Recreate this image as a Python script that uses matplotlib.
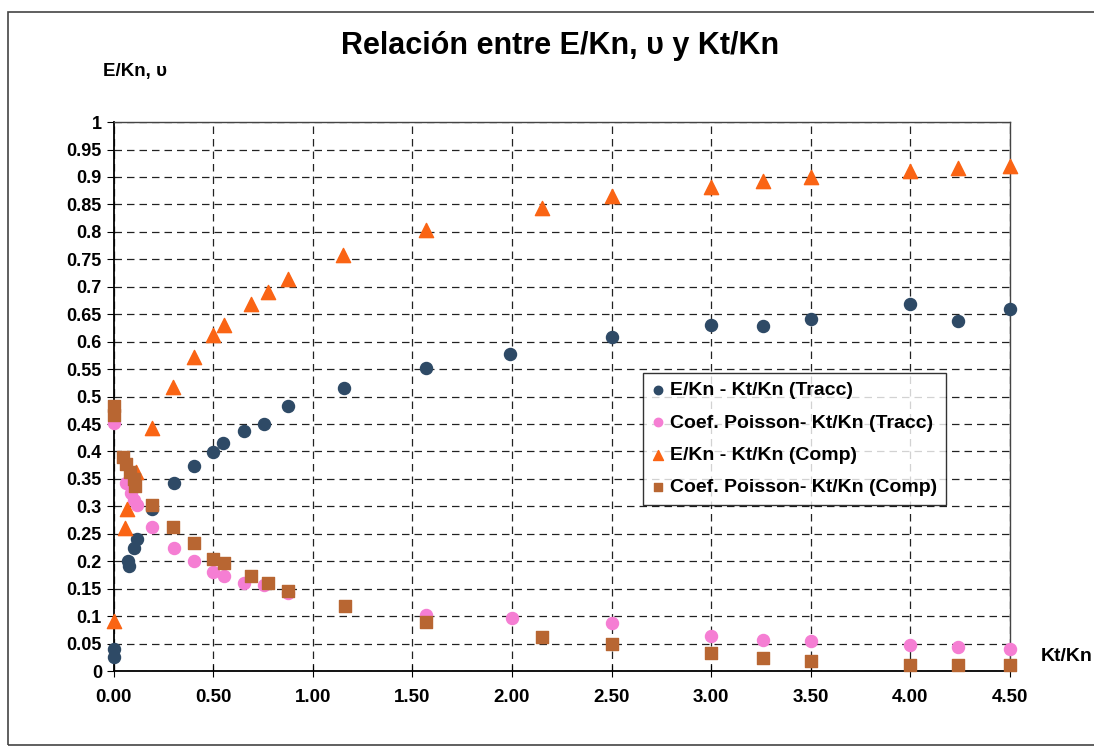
import matplotlib.pyplot as plt
from matplotlib.patches import Rectangle
from matplotlib.ticker import MultipleLocator, FuncFormatter

plt.rcParams['font.family'] = ['Liberation Sans', 'DejaVu Sans']
plt.rcParams['font.weight'] = 'bold'

# E/Kn - Kt/Kn (Tracc)
x_e_tracc = [0, 0, 0.07, 0.075, 0.10, 0.117, 0.193, 0.30, 0.405, 0.5, 0.55, 0.652,
             0.752, 0.876, 1.154, 1.57, 1.99, 2.50, 3.0, 3.26, 3.5, 4.0, 4.24, 4.5]
y_e_tracc = [0.04, 0.025, 0.2, 0.192, 0.225, 0.24, 0.295, 0.343, 0.373, 0.399, 0.415, 0.437,
             0.45, 0.483, 0.515, 0.552, 0.578, 0.608, 0.63, 0.628, 0.642, 0.668, 0.638, 0.66]

# Coef. Poisson - Kt/Kn (Tracc)
x_p_tracc = [0, 0.06, 0.085, 0.1, 0.115, 0.193, 0.30, 0.405, 0.5, 0.553, 0.656, 0.752,
             0.876, 1.57, 2.0, 2.5, 3.0, 3.26, 3.5, 4.0, 4.24, 4.5]
y_p_tracc = [0.452, 0.342, 0.325, 0.312, 0.303, 0.263, 0.224, 0.2, 0.18, 0.173, 0.16, 0.157,
             0.143, 0.102, 0.097, 0.087, 0.064, 0.057, 0.054, 0.047, 0.043, 0.04]

# E/Kn - Kt/Kn (Comp)
x_e_comp = [0, 0.055, 0.065, 0.11, 0.193, 0.298, 0.404, 0.5, 0.553, 0.689, 0.773, 0.876,
            1.152, 1.567, 2.149, 2.5, 3.0, 3.26, 3.5, 4.0, 4.24, 4.5]
y_e_comp = [0.092, 0.26, 0.295, 0.362, 0.443, 0.518, 0.573, 0.612, 0.63, 0.669, 0.691, 0.714,
            0.757, 0.803, 0.843, 0.865, 0.882, 0.893, 0.9, 0.91, 0.917, 0.92]

# Coef. Poisson - Kt/Kn (Comp)
x_p_comp = [0, 0, 0.045, 0.06, 0.08, 0.1, 0.105, 0.193, 0.298, 0.405, 0.5, 0.553, 0.689,
            0.773, 0.876, 1.16, 1.567, 2.149, 2.5, 3.0, 3.26, 3.5, 4.0, 4.24, 4.5]
y_p_comp = [0.482, 0.467, 0.39, 0.377, 0.363, 0.35, 0.338, 0.303, 0.262, 0.233, 0.205, 0.196,
            0.173, 0.16, 0.146, 0.118, 0.089, 0.062, 0.05, 0.033, 0.024, 0.019, 0.012, 0.012, 0.012]

labels = ["E/Kn - Kt/Kn (Tracc)", "Coef. Poisson- Kt/Kn (Tracc)",
          "E/Kn - Kt/Kn (Comp)", "Coef. Poisson- Kt/Kn (Comp)"]

fig = plt.figure(figsize=(10.94, 7.49), dpi=100)
ax = fig.add_axes([0.104, 0.104, 0.819, 0.733])

ax.scatter(x_e_tracc, y_e_tracc, s=75, marker='o', color='#2E4A66', label=labels[0], clip_on=False, zorder=3)
ax.scatter(x_p_tracc, y_p_tracc, s=75, marker='o', color='#F57ED3', label=labels[1], clip_on=False, zorder=3)
ax.scatter(x_e_comp, y_e_comp, s=105, marker='^', color='#FA6414', label=labels[2], clip_on=False, zorder=3)
ax.scatter(x_p_comp, y_p_comp, s=75, marker='s', color='#B86632', label=labels[3], clip_on=False, zorder=3)

ax.set_xlim(0, 4.5)
ax.set_ylim(0, 1)
ax.xaxis.set_major_locator(MultipleLocator(0.5))
ax.yaxis.set_major_locator(MultipleLocator(0.05))
ax.xaxis.set_major_formatter(FuncFormatter(lambda v, p: f"{v:.2f}"))
ax.yaxis.set_major_formatter(FuncFormatter(lambda v, p: f"{round(v, 2):g}"))
ax.tick_params(axis='x', direction='inout', length=8, labelsize=13.5, pad=9)
ax.tick_params(axis='y', direction='out', length=5, labelsize=13)
for lab in ax.get_xticklabels() + ax.get_yticklabels():
    lab.set_fontweight('bold')

ax.grid(True, color='#222222', linestyle=(0, (6, 4)), linewidth=0.9)
ax.set_axisbelow(True)
for side in ['left', 'bottom']:
    ax.spines[side].set_linewidth(1.3)
for side in ['top', 'right']:
    ax.spines[side].set_linewidth(1.0)
    ax.spines[side].set_color('#444444')

fig.text(0.512, 0.938, "Relación entre E/Kn, υ y Kt/Kn", ha='center', va='center',
         fontsize=22, fontweight='bold')
fig.text(0.123, 0.904, "E/Kn, υ", ha='center', va='center', fontsize=13.5, fontweight='bold')
fig.text(0.951, 0.123, "Kt/Kn", ha='left', va='center', fontsize=14, fontweight='bold')

leg = ax.legend(loc='upper left', bbox_to_anchor=(0.588, 0.502), bbox_transform=fig.transFigure,
                fontsize=14, frameon=True, fancybox=False, edgecolor='black',
                handlelength=0.6, handletextpad=0.35, labelspacing=0.75, borderpad=0.45,
                markerscale=0.7, borderaxespad=0)
leg.get_frame().set_linewidth(1.0)
for t in leg.get_texts():
    t.set_fontweight('bold')

fig.patches.append(Rectangle((8 / 1094, 1 - 745 / 749), 1.2, (745 - 12) / 749,
                             transform=fig.transFigure, fill=False, edgecolor='#444444',
                             linewidth=1.2))

fig.savefig('out.png', dpi=100)
